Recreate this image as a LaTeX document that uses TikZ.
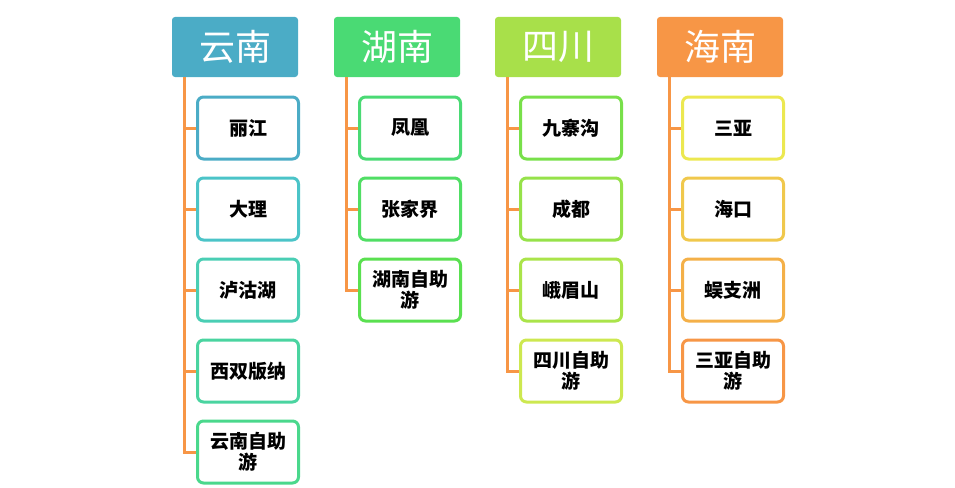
\documentclass[tikz,border=0pt]{standalone}
\usepackage{fontspec}
\setmainfont{Noto Sans CJK SC}
\begin{document}
\begin{tikzpicture}[x=1pt,y=-1pt,
  hdr/.style={rounded corners=3pt,minimum width=126pt,minimum height=60pt,text=white,font=\fontsize{36}{40}\selectfont,inner sep=0pt},
  kid/.style={draw,line width=3pt,rounded corners=6pt,fill=white,minimum width=101pt,minimum height=62pt,align=center,font=\fontsize{19}{21}\selectfont\bfseries,inner sep=0pt}]
\useasboundingbox (0,0) rectangle (955,487);
\definecolor{c1}{RGB}{75,172,198}
\definecolor{c2}{RGB}{74,218,116}
\definecolor{c3}{RGB}{168,224,74}
\definecolor{c4}{RGB}{247,150,70}
\definecolor{ln}{RGB}{247,150,70}
\node[hdr,fill=c1] (h1) at (235,47) {云南};
\node[hdr,fill=c2] (h2) at (397,47) {湖南};
\node[hdr,fill=c3] (h3) at (558,47) {四川};
\node[hdr,fill=c4] (h4) at (720,47) {海南};
\definecolor{a1}{RGB}{75,172,198}\definecolor{a2}{RGB}{75,196,200}\definecolor{a3}{RGB}{74,206,180}\definecolor{a4}{RGB}{74,212,160}\definecolor{a5}{RGB}{74,216,140}
\node[kid,draw=a1] (y1) at (248,128) {丽江};
\node[kid,draw=a2] (y2) at (248,209) {大理};
\node[kid,draw=a3] (y3) at (248,290) {泸沽湖};
\node[kid,draw=a4] (y4) at (248,371) {西双版纳};
\node[kid,draw=a5] (y5) at (248,452) {云南自助\\游};
\definecolor{b1}{RGB}{74,218,116}\definecolor{b2}{RGB}{80,222,100}\definecolor{b3}{RGB}{90,224,80}
\node[kid,draw=b1] (n1) at (410,128) {凤凰};
\node[kid,draw=b2] (n2) at (410,209) {张家界};
\node[kid,draw=b3] (n3) at (410,290) {湖南自助\\游};
\definecolor{d1}{RGB}{120,224,74}\definecolor{d2}{RGB}{150,226,74}\definecolor{d3}{RGB}{170,228,74}\definecolor{d4}{RGB}{205,232,80}
\node[kid,draw=d1] (s1) at (571,128) {九寨沟};
\node[kid,draw=d2] (s2) at (571,209) {成都};
\node[kid,draw=d3] (s3) at (571,290) {峨眉山};
\node[kid,draw=d4] (s4) at (571,371) {四川自助\\游};
\definecolor{e1}{RGB}{236,232,80}\definecolor{e2}{RGB}{240,200,76}\definecolor{e3}{RGB}{244,176,72}\definecolor{e4}{RGB}{247,150,70}
\node[kid,draw=e1] (o1) at (733,128) {三亚};
\node[kid,draw=e2] (o2) at (733,209) {海口};
\node[kid,draw=e3] (o3) at (733,290) {蜈支洲};
\node[kid,draw=e4] (o4) at (733,371) {三亚自助\\游};
\begin{scope}[ln,line width=3pt]
\draw ([xshift=-51pt]h1.south) -- ([xshift=-51pt]h1.south |- y5.west) -- (y5.west);
\foreach \k in {y1,y2,y3,y4} \draw ([xshift=-51pt]h1.south |- \k.west) -- (\k.west);
\draw ([xshift=-51pt]h2.south) -- ([xshift=-51pt]h2.south |- n3.west) -- (n3.west);
\foreach \k in {n1,n2} \draw ([xshift=-51pt]h2.south |- \k.west) -- (\k.west);
\draw ([xshift=-51pt]h3.south) -- ([xshift=-51pt]h3.south |- s4.west) -- (s4.west);
\foreach \k in {s1,s2,s3} \draw ([xshift=-51pt]h3.south |- \k.west) -- (\k.west);
\draw ([xshift=-51pt]h4.south) -- ([xshift=-51pt]h4.south |- o4.west) -- (o4.west);
\foreach \k in {o1,o2,o3} \draw ([xshift=-51pt]h4.south |- \k.west) -- (\k.west);
\end{scope}
\end{tikzpicture}
\end{document}
